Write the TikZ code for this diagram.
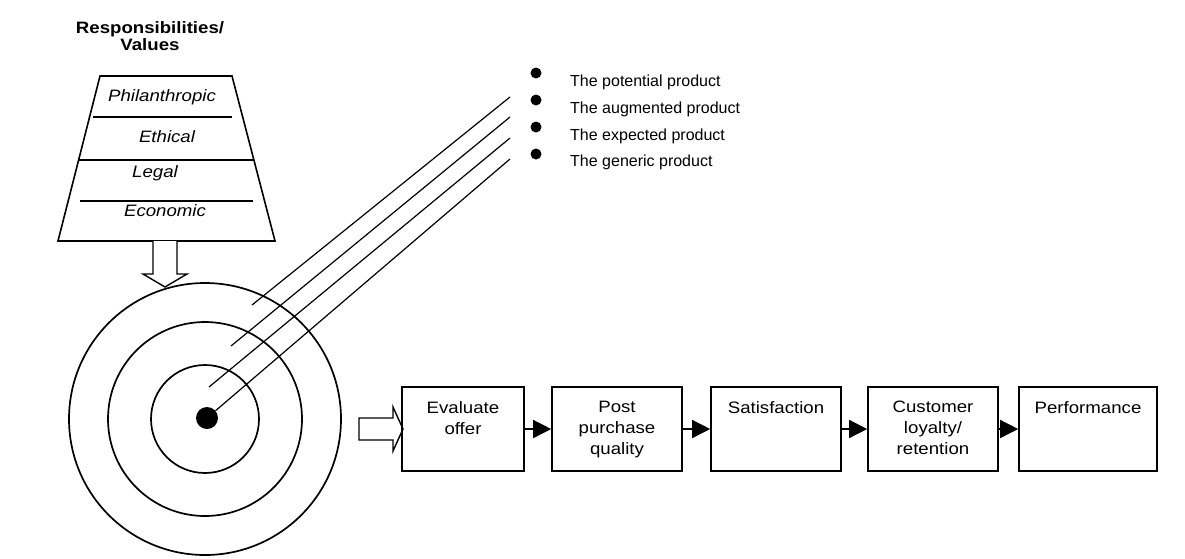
\documentclass[tikz,border=0pt]{standalone}
\usepackage{fontspec}
\setmainfont{Liberation Sans}
\newfontfamily\widefont[FakeStretch=1.13]{Liberation Sans}
\usetikzlibrary{arrows.meta,positioning}
\tikzset{
    stage-box/.style = {draw, line width=1.6pt, minimum width=130pt, minimum height=84pt, inner sep=0pt},
    stage-text/.style = {font=\widefont\fontsize{16.5}{21}\selectfont, align=center, anchor=north, inner sep=0pt},
    stage-arrow/.style = {-{Triangle[length=18pt,width=18pt]}, line width=1.4pt},
    layer-text/.style = {font=\widefont\itshape\fontsize{16.5}{20}\selectfont, inner sep=0pt},
    ring/.style = {draw, circle, line width=1.7pt, inner sep=0pt},
    ray/.style = {line width=1.2pt},
    product-dot/.style = {circle, fill, inner sep=0pt, minimum size=11pt},
    product-text/.style = {font=\fontsize{16}{19}\selectfont, anchor=base west, inner sep=0pt},
    hollow-arrow/.style = {draw, line width=1.4pt, fill=white, line join=miter},
}

\begin{document}
\begin{tikzpicture}[x=1pt, y=-1pt]
\useasboundingbox (0,0) rectangle (1185,558);

% responsibilities pyramid
\node[font=\widefont\bfseries\fontsize{16.5}{17}\selectfont, align=center] (title) at (150,36) {Responsibilities/\\Values};
\draw[line width=1.6pt] (100,76) -- (232,76) -- (275,241) -- (58,241) -- cycle;
\draw[line width=1.4pt] (93,117) -- (232,117);
\draw[line width=1.4pt] (79,160) -- (253,160);
\draw[line width=1.4pt] (80,201) -- (253,201);
\node[layer-text] (philanthropic) at (162,97) {Philanthropic};
\node[layer-text] (ethical) at (167,137) {Ethical};
\node[layer-text] (legal) at (155,173) {Legal};
\node[layer-text] (economic) at (165,211) {Economic};
\draw[hollow-arrow] (153,241) -- (153,274) -- (143,274) -- (165,287) -- (187,274) -- (177,274) -- (177,241);

% target
\node[ring, minimum size=272pt] (outer-ring) at (205,419) {};
\node[ring, minimum size=194pt] (middle-ring) at (205,419) {};
\node[ring, minimum size=108pt] (inner-ring) at (205,419) {};
\node[circle, fill, inner sep=0pt, minimum size=22pt] (core) at (207,418) {};

% product levels
\foreach \txt [count=\i] in {The potential product, The augmented product, The expected product, The generic product} {
    \node[product-dot] (dot\i) at (536, 46+27*\i) {};
    \node[product-text] (level\i) at (570, 60+26.7*\i) {\txt};
}
\coordinate (ray1-in) at (252,305);
\coordinate (ray2-in) at (231,346);
\coordinate (ray3-in) at (209,387);
\foreach \y [count=\i] in {97,117,138,159}
    \coordinate (ray\i-out) at (510,\y);
\foreach \i in {1,2,3}
    \draw[ray] (ray\i-in) -- (ray\i-out);
\draw[ray] (core) -- (ray4-out);

% stages
\draw[hollow-arrow] (359,418) -- (393,418) -- (393,407) -- (403,429) -- (393,451) -- (393,440) -- (359,440) -- cycle;
\node[stage-box, minimum width=122pt] (evaluate) at (463,429) {};
\node[stage-box] (quality) at (617,429) {};
\node[stage-box] (satisfaction) at (776,429) {};
\node[stage-box] (loyalty) at (933,429) {};
\node[stage-box, minimum width=138pt] (performance) at (1088,429) {};
\node[stage-text] at ([yshift=-15pt]evaluate.north) {Evaluate\\offer};
\node[stage-text] at ([yshift=-15pt]quality.north) {Post\\purchase\\quality};
\node[stage-text] at ([yshift=-15pt]satisfaction.north) {Satisfaction};
\node[stage-text] at ([yshift=-15pt]loyalty.north) {Customer\\loyalty/\\retention};
\node[stage-text] at ([yshift=-15pt]performance.north) {Performance};
\draw[stage-arrow] (evaluate) -- (quality);
\draw[stage-arrow] (quality) -- (satisfaction);
\draw[stage-arrow] (satisfaction) -- (loyalty);
\draw[stage-arrow] (loyalty) -- (performance);
\end{tikzpicture}
\end{document}
